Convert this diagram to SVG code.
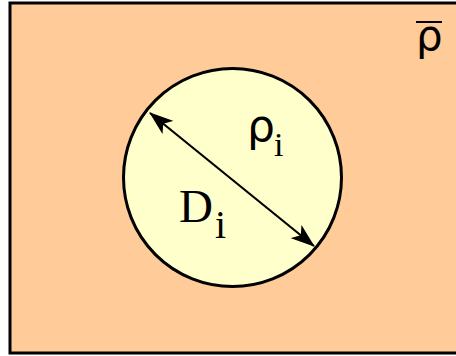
<svg xmlns="http://www.w3.org/2000/svg" width="456" height="356" viewBox="0 0 456 356">
<defs>
<style>
.serif{font-family:"Liberation Serif","Times New Roman",serif;fill:#000}
.sans{font-family:"DejaVu Sans","Liberation Sans",sans-serif;fill:#000}
</style>
<marker id="ah" viewBox="0 0 24 17" refX="23" refY="8.5" markerWidth="24" markerHeight="17" markerUnits="userSpaceOnUse" orient="auto-start-reverse">
<path d="M0,0 L24,8.5 L0,17 L6,8.5 Z" fill="#000"/>
</marker>
</defs>
<g id="matrix">
<rect x="10" y="3" width="460" height="350" fill="#FFCC99" stroke="#000" stroke-width="3"/>
<text class="sans" x="416" y="50" font-size="42">ρ</text>
<line x1="416" y1="22" x2="442" y2="22" stroke="#000" stroke-width="2"/>
</g>
<g id="particle">
<circle cx="232.5" cy="177.5" r="109" fill="#FFFFCC" stroke="#000" stroke-width="3"/>
<text class="sans" x="247" y="141" font-size="44">ρ<tspan class="serif" font-size="34" x="274" y="156">i</tspan></text>
<text class="serif" x="179" y="222" font-size="47">D<tspan font-size="40" x="215" y="238">i</tspan></text>
</g>
<g id="connectors">
<line x1="150" y1="113" x2="314" y2="246" stroke="#000" stroke-width="2.2" marker-start="url(#ah)" marker-end="url(#ah)"/>
</g>
</svg>
